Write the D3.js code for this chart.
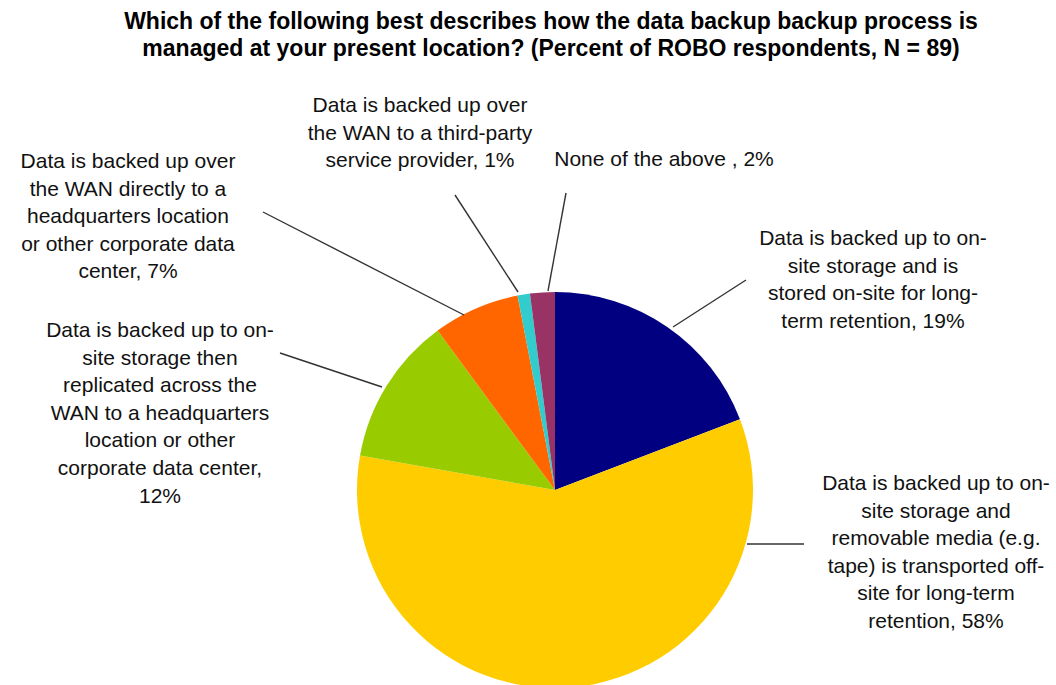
<!DOCTYPE html>
<html><head><meta charset="utf-8">
<script src="https://cdn.jsdelivr.net/npm/d3@7"></script>
<style>body{margin:0;background:#fff}svg{display:block}</style>
</head><body>
<svg id="chart" width="1056" height="685"></svg>
<script>
const categories = [
  "Data is backed up to on-site storage and is stored on-site for long-term retention",
  "Data is backed up to on-site storage and removable media (e.g. tape) is transported off-site for long-term retention",
  "Data is backed up to on-site storage then replicated across the WAN to a headquarters location or other corporate data center",
  "Data is backed up over the WAN directly to a headquarters location or other corporate data center",
  "Data is backed up over the WAN to a third-party service provider",
  "None of the above "
];
const values = [19, 58, 12, 7, 1, 2];
const colors = ["#000080", "#FFCC00", "#99CC00", "#FF6600", "#33CCCC", "#993366"];
const labelLines = [
  ["Data is backed up to on-", "site storage and is", "stored on-site for long-", "term retention, 19%"],
  ["Data is backed up to on-", "site storage and", "removable media (e.g.", "tape) is transported off-", "site for long-term", "retention, 58%"],
  ["Data is backed up to on-", "site storage then", "replicated across the", "WAN to a headquarters", "location or other", "corporate data center,", "12%"],
  ["Data is backed up over", "the WAN directly to a", "headquarters location", "or other corporate data", "center, 7%"],
  ["Data is backed up over", "the WAN to a third-party", "service provider, 1%"],
  ["None of the above , 2%"]
];
const titleLines = [
  "Which of the following best describes how the data backup backup process is",
  "managed at your present location? (Percent of ROBO respondents, N = 89)"
];

// layout
const cx = 555, cy = 490, R = 198;
const labelPos = [
  {x: 873, y: 245, line: [[673, 327], [746, 280]]},
  {x: 936, y: 490, line: [[747, 544], [804, 544]]},
  {x: 160, y: 337, line: [[382, 387], [280, 353]]},
  {x: 128, y: 168, line: [[464, 315], [263, 212]]},
  {x: 420, y: 112, line: [[518, 292], [455, 195]]},
  {x: 664, y: 166, line: [[548, 291], [566, 193]]}
];
const lineH = 27.6;

const svg = d3.select("#chart");
svg.append("rect").attr("width", 1056).attr("height", 685).attr("fill", "#fff");

const title = svg.append("text").attr("font-family", "Liberation Sans, Arial, sans-serif")
  .attr("font-weight", "bold").attr("font-size", 23).attr("text-anchor", "middle").attr("fill", "#000");
titleLines.forEach((t, i) => title.append("tspan").attr("x", 551).attr("y", 29 + i * 26.5).text(t));

const pie = d3.pie().sort(null).value(d => d).startAngle(0).endAngle(2 * Math.PI);
const arc = d3.arc().innerRadius(0).outerRadius(R);
const g = svg.append("g").attr("transform", `translate(${cx},${cy})`);
g.selectAll("path").data(pie(values)).join("path")
  .attr("d", arc).attr("fill", (d, i) => colors[i]);

labelPos.forEach((p, i) => {
  svg.append("line").attr("x1", p.line[0][0]).attr("y1", p.line[0][1])
    .attr("x2", p.line[1][0]).attr("y2", p.line[1][1])
    .attr("stroke", "#333").attr("stroke-width", 1.4);
  const t = svg.append("text").attr("font-family", "Liberation Sans, Arial, sans-serif")
    .attr("font-size", 21).attr("text-anchor", "middle").attr("fill", "#111");
  labelLines[i].forEach((l, j) => t.append("tspan").attr("x", p.x).attr("y", p.y + j * lineH).text(l));
});
</script>
</body></html>
